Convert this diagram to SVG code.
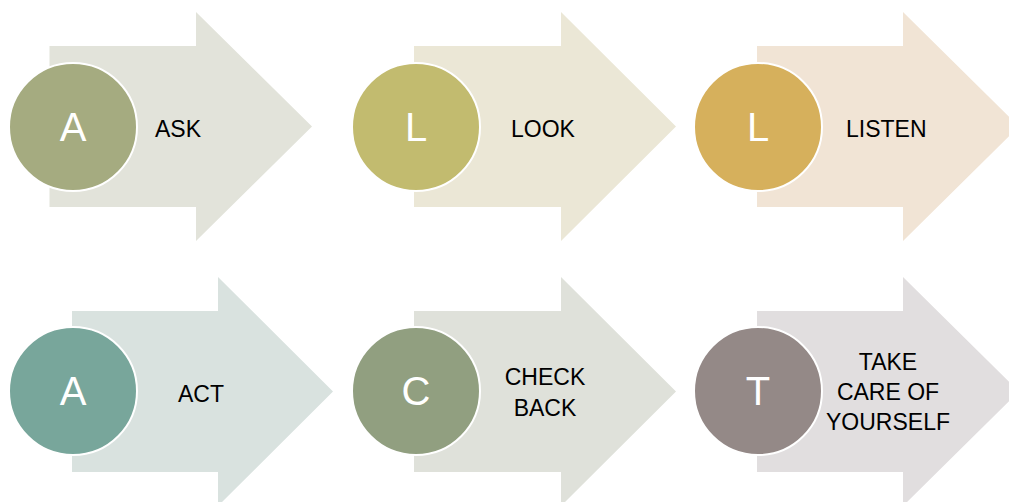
<svg xmlns="http://www.w3.org/2000/svg" width="1009" height="502" viewBox="0 0 1009 502">
<style>
.circ{stroke:#ffffff;stroke-width:2}
.letter{font-family:"Liberation Sans",Arial,sans-serif;font-size:40px;fill:#ffffff;text-anchor:middle}
.label{font-family:"Liberation Sans",Arial,sans-serif;font-size:23px;fill:#000000}
.mid{text-anchor:middle}
</style>
<rect width="1009" height="502" fill="#ffffff"/>
<g id="step-ask">
<polygon points="49.5,46 196,46 196,12 312,126.5 196,241 196,207 49.5,207" fill="#e2e3da"/>
<circle class="circ" cx="73" cy="127" r="64" fill="#a5ab80"/>
<text class="letter" x="73" y="141">A</text>
<text class="label" x="155" y="137">ASK</text>
</g>
<g id="step-look">
<polygon points="414,46 561,46 561,12 676,126.5 561,241 561,207 414,207" fill="#ebe7d6"/>
<circle class="circ" cx="416" cy="127" r="64" fill="#c2bb6f"/>
<text class="letter" x="416" y="141">L</text>
<text class="label" x="511" y="137">LOOK</text>
</g>
<g id="step-listen">
<polygon points="757,46 903,46 903,12 1019,126.5 903,241 903,207 757,207" fill="#f1e4d5"/>
<circle class="circ" cx="758" cy="127" r="64" fill="#d6b05c"/>
<text class="letter" x="758" y="141">L</text>
<text class="label" x="846" y="137">LISTEN</text>
</g>
<g id="step-act">
<polygon points="72,311 218,311 218,277 333,391.5 218,506 218,472 72,472" fill="#d9e2df"/>
<circle class="circ" cx="73" cy="391" r="64" fill="#78a69b"/>
<text class="letter" x="73" y="405">A</text>
<text class="label" x="178" y="402">ACT</text>
</g>
<g id="step-check-back">
<polygon points="414,311 561,311 561,277 676,391.5 561,506 561,472 414,472" fill="#dfe1da"/>
<circle class="circ" cx="416" cy="391" r="64" fill="#919f80"/>
<text class="letter" x="416" y="405">C</text>
<text class="label mid" x="545" y="385">CHECK</text>
<text class="label mid" x="545" y="416">BACK</text>
</g>
<g id="step-take-care">
<polygon points="757,311 903,311 903,277 1019,391.5 903,506 903,472 757,472" fill="#e1dedf"/>
<circle class="circ" cx="758" cy="391" r="64" fill="#948987"/>
<text class="letter" x="758" y="405">T</text>
<text class="label mid" x="888" y="370">TAKE</text>
<text class="label mid" x="888" y="400">CARE OF</text>
<text class="label mid" x="888" y="430">YOURSELF</text>
</g>
<g id="connectors"></g>
</svg>
